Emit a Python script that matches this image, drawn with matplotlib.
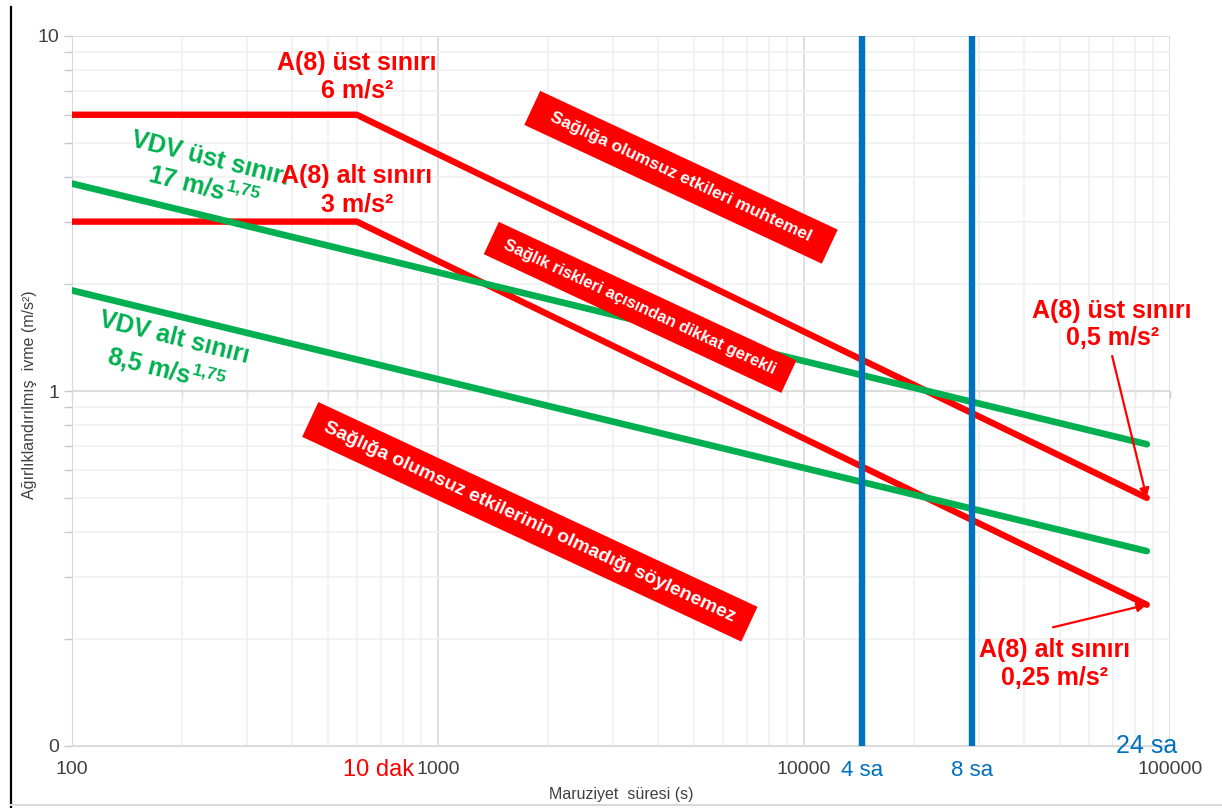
import numpy as np
import matplotlib.pyplot as plt
from matplotlib.ticker import LogLocator, NullFormatter
from matplotlib.lines import Line2D

plt.rcParams['font.family'] = ['Liberation Sans', 'DejaVu Sans']
plt.rcParams['mathtext.fontset'] = 'custom'
plt.rcParams['mathtext.rm'] = 'Liberation Sans'
plt.rcParams['mathtext.bf'] = 'Liberation Sans:bold'

# exposure limits: time in seconds, weighted acceleration in m/s²
a8_time = [100, 600, 86400]
a8_upper = [6, 6, 0.5]
a8_lower = [3, 3, 0.25]
vdv_time = [100, 86400]
vdv_upper = [3.84, 0.708]
vdv_lower = [1.92, 0.354]
shift_seconds = [14400, 28800]
shift_labels = ['4 sa', '8 sa']
x_ticks = [100, 1000, 10000, 100000]
x_ticklabels = ['100', '1000', '10000', '100000']
y_ticks = [0.1, 1, 10]
y_ticklabels = ['0', '1', '10']

RED = '#FF0000'
GREEN = '#00B050'
BLUE = '#0070C0'
GREY = '#404040'

fig = plt.figure(figsize=(12.22, 8.08), dpi=100)
ax = fig.add_axes([72 / 1222, 62 / 808, 1098 / 1222, 710 / 808])
ax.set_xscale('log')
ax.set_yscale('log')
ax.set_xlim(100, 100000)
ax.set_ylim(0.1, 10)

ax.set_axisbelow(True)
ax.grid(which='major', color='#dcdcdc', lw=1.3)
ax.grid(which='minor', color='#efefef', lw=1.1)

ax.set_xticks(x_ticks, x_ticklabels)
ax.xaxis.set_minor_locator(LogLocator(subs=np.arange(2, 10)))
ax.xaxis.set_minor_formatter(NullFormatter())
ax.tick_params(axis='x', which='both', length=0, pad=11, labelsize=14, labelcolor=GREY)

ax.set_yticks(y_ticks, y_ticklabels)
ax.yaxis.set_minor_locator(LogLocator(subs=np.arange(2, 10)))
ax.yaxis.set_minor_formatter(NullFormatter())
ax.tick_params(axis='y', which='both', length=6, width=1, color='#c8c8c8',
               pad=3, labelsize=14, labelcolor=GREY)

for side in ['top', 'right']:
    ax.spines[side].set_visible(False)
ax.spines['left'].set_color('#d9d9d9')
ax.spines['bottom'].set_color('#d9d9d9')

# horizontal axis crossing at 1 m/s², ticks only
cross = ax.secondary_xaxis(0.5)
cross.set_alignment('bottom')
cross.set_xticks(x_ticks)
cross.xaxis.set_minor_locator(LogLocator(subs=np.arange(2, 10)))
cross.tick_params(which='both', direction='out', length=5, width=1, color='#c8c8c8',
                  labelbottom=False, labeltop=False)
cross.spines['bottom'].set_color('#d9d9d9')

# limit lines
ax.plot(a8_time, a8_upper, color=RED, lw=4.6, solid_capstyle='round', zorder=3)
ax.plot(a8_time, a8_lower, color=RED, lw=4.6, solid_capstyle='round', zorder=3)
ax.plot(vdv_time, vdv_upper, color=GREEN, lw=4.8, solid_capstyle='round', zorder=3)
ax.plot(vdv_time, vdv_lower, color=GREEN, lw=4.8, solid_capstyle='round', zorder=3)

for t in shift_seconds:
    ax.axvline(t, color=BLUE, lw=4.6, zorder=4)

# limit labels
lab = dict(ha='center', va='center', fontsize=18, fontweight='bold', linespacing=1.2)
ax.text(234, 4.09, 'VDV üst sınırı\n17 m/s$^{\\mathbf{1{,}75}}$', color=GREEN,
        rotation=-14, rotation_mode='anchor', zorder=5, **lab)
ax.text(185, 1.26, 'VDV alt sınırı\n8,5 m/s$^{\\mathbf{1{,}75}}$', color=GREEN,
        rotation=-14, rotation_mode='anchor', zorder=5, **lab)
ax.text(600, 7.66, 'A(8) üst sınırı\n6 m/s²', color=RED, zorder=6, **lab)
ax.text(600, 3.68, 'A(8) alt sınırı\n3 m/s²', color=RED, zorder=6, **lab)
ax.text(69500, 1.54, 'A(8) üst sınırı\n0,5 m/s²', color=RED, zorder=6, **lab)
ax.text(48500, 0.170, 'A(8) alt sınırı\n0,25 m/s²', color=RED, zorder=6, **lab)

arrow = dict(arrowstyle='-|>', color=RED, lw=1.6, mutation_scale=14, shrinkA=0, shrinkB=0)
ax.annotate('', xy=(a8_time[-1], a8_upper[-1]), xytext=(69500, 1.255), arrowprops=arrow, zorder=6)
ax.annotate('', xy=(a8_time[-1], a8_lower[-1]), xytext=(47900, 0.216), arrowprops=arrow, zorder=6)

# zone banners
def banner(x, y, text, size, pad):
    ax.text(x, y, text, rotation=-25, rotation_mode='anchor', ha='center', va='center',
            color='white', fontsize=size, fontweight='bold', zorder=5,
            bbox=dict(boxstyle=f'square,pad={pad}', fc=RED, ec='none'))

banner(4613, 4.0, '  Sağlığa olumsuz etkileri muhtemel  ', 12.5, 0.65)
banner(3565, 1.72, ' Sağlık riskleri açısından dikkat gerekli ', 12, 0.62)
banner(1782, 0.428, ' Sağlığa olumsuz etkilerinin olmadığı söylenemez ', 14, 0.55)

# time markers along the axis
xt = ax.get_xaxis_transform()
ax.text(686, -0.034, '10 dak', transform=xt, ha='center', va='center', color=RED, fontsize=17)
for t, s in zip(shift_seconds, shift_labels):
    ax.text(t, -0.034, s, transform=xt, ha='center', va='center', color=BLUE, fontsize=16)
ax.text(86400, 0.0, '24 sa', transform=xt, ha='center', va='center', color=BLUE, fontsize=18)

fig.text(30 / 1222, 1 - 395 / 808, 'Ağırlıklandırılmış  ivme (m/s²)', rotation=90,
         ha='center', va='center', fontsize=11.5, color=GREY)
fig.text(621 / 1222, 1 - 795 / 808, 'Maruziyet  süresi (s)', ha='center', va='center',
         fontsize=11.5, color=GREY)

fig.add_artist(Line2D([11 / 1222, 11 / 1222], [0, 1 - 7 / 808], color='black', lw=1.6))
fig.add_artist(Line2D([11 / 1222, 1], [1 - 805 / 808, 1 - 805 / 808], color='#d9d9d9', lw=1.5))

fig.savefig('out.png', dpi=100)
